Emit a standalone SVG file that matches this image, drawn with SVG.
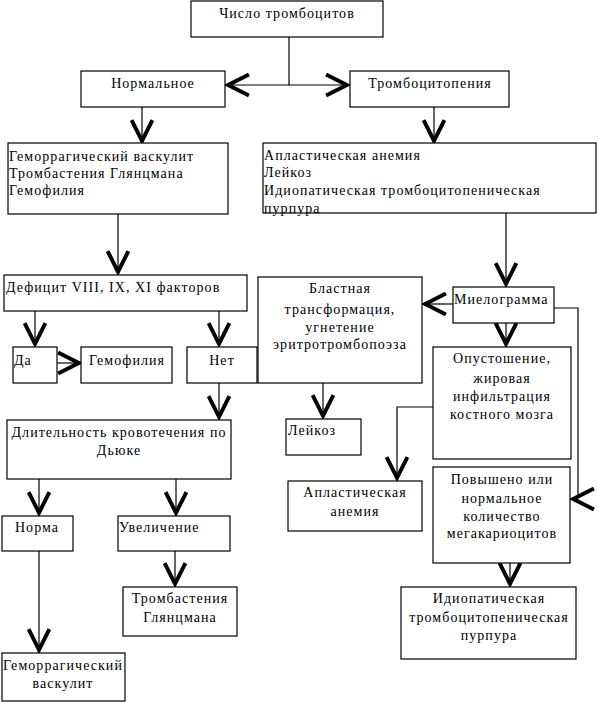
<svg xmlns="http://www.w3.org/2000/svg" width="598" height="703" viewBox="0 0 598 703">
<defs>
<style>
.box{fill:#fff;stroke:#000;stroke-width:1.2}
text{font-family:'Liberation Serif','DejaVu Serif',serif;font-size:14px;fill:#000;letter-spacing:1.05px}
.c{text-anchor:middle}
.ln{fill:none;stroke:#000;stroke-width:1.2;marker-end:url(#v)}
</style>
<marker id="v" markerUnits="userSpaceOnUse" markerWidth="30" markerHeight="30" viewBox="-22 -12 26 24" refX="1" refY="0" orient="auto" overflow="visible">
<path d="M-18,-9 L0,0 L-18,9" fill="none" stroke="#000" stroke-width="3.4" stroke-linejoin="miter"/>
</marker>
</defs>
<rect width="598" height="703" fill="#fff"/>
<g id="connectors">
<path class="ln" d="M289,37 V85 H227"/>
<path class="ln" d="M289,85 H348"/>
<path class="ln" d="M142,107 V142"/>
<path class="ln" d="M434,107 V142"/>
<path class="ln" d="M118,214 V273"/>
<path class="ln" d="M506,213 V285"/>
<path class="ln" d="M35,311 V345"/>
<path class="ln" d="M219,311 V345"/>
<path class="ln" d="M57,363 H80"/>
<path class="ln" d="M219,383 V418"/>
<path class="ln" d="M39,479 V514"/>
<path class="ln" d="M176,479 V514"/>
<path class="ln" d="M175,551 V585"/>
<path class="ln" d="M39,551 V651"/>
<path class="ln" d="M453,304 H424"/>
<path class="ln" d="M554,308 H578 V499 H572"/>
<path class="ln" d="M506,323 V345"/>
<path class="ln" d="M433,407 H397 V479"/>
<path class="ln" d="M323,383 V417"/>
<path class="ln" d="M510,563 V585"/>
</g>
<g font-family="Liberation Serif, DejaVu Serif, serif">
<g id="n-count"><rect class="box" x="191" y="1" width="192" height="36"/><text class="c" x="287" y="18">Число тромбоцитов</text></g>
<g id="n-normal"><rect class="box" x="81" y="71" width="144" height="36"/><text class="c" x="153" y="88">Нормальное</text></g>
<g id="n-thrombocytopenia"><rect class="box" x="350" y="71" width="159" height="36"/><text class="c" x="430" y="88">Тромбоцитопения</text></g>
<g id="n-list1"><rect class="box" x="8" y="143" width="220" height="71"/><text x="9" y="161">Геморрагический васкулит</text><text x="9" y="178">Тромбастения Глянцмана</text><text x="9" y="195">Гемофилия</text></g>
<g id="n-list2"><rect class="box" x="263" y="143" width="333" height="70"/><text x="264" y="160">Апластическая анемия</text><text x="264" y="177">Лейкоз</text><text x="264" y="195">Идиопатическая тромбоцитопеническая</text><text x="264" y="213">пурпура</text></g>
<g id="n-deficit"><rect class="box" x="4" y="275" width="243" height="36"/><text x="6" y="292">Дефицит VIII, IX, XI факторов</text></g>
<g id="n-yes"><rect class="box" x="13" y="347" width="44" height="36"/><text x="14" y="365">Да</text></g>
<g id="n-hemophilia"><rect class="box" x="81" y="347" width="91" height="36"/><text class="c" x="127" y="365">Гемофилия</text></g>
<g id="n-no"><rect class="box" x="187" y="347" width="70" height="36"/><text class="c" x="222" y="365">Нет</text></g>
<g id="n-duke"><rect class="box" x="7" y="420" width="224" height="59"/><text class="c" x="119" y="437">Длительность кровотечения по</text><text class="c" x="119" y="455">Дьюке</text></g>
<g id="n-norm"><rect class="box" x="2" y="516" width="71" height="35"/><text class="c" x="37" y="532">Норма</text></g>
<g id="n-increase"><rect class="box" x="118" y="516" width="112" height="35"/><text x="119" y="532">Увеличение</text></g>
<g id="n-glanzmann"><rect class="box" x="123" y="587" width="114" height="49"/><text class="c" x="180" y="603">Тромбастения</text><text class="c" x="180" y="622">Глянцмана</text></g>
<g id="n-vasculitis"><rect class="box" x="2" y="653" width="123" height="48"/><text class="c" x="63" y="670">Геморрагический</text><text class="c" x="63" y="688">васкулит</text></g>
<g id="n-blast"><rect class="box" x="258" y="277" width="164" height="106"/><text class="c" x="340" y="293">Бластная</text><text class="c" x="340" y="314">трансформация,</text><text class="c" x="340" y="332">угнетение</text><text class="c" x="340" y="349">эритротромбопоэза</text></g>
<g id="n-myelogram"><rect class="box" x="453" y="287" width="101" height="36"/><text x="454" y="304">Миелограмма</text></g>
<g id="n-leukosis"><rect class="box" x="286" y="419" width="75" height="36"/><text x="288" y="435">Лейкоз</text></g>
<g id="n-devastation"><rect class="box" x="433" y="347" width="138" height="112"/><text class="c" x="502" y="363">Опустошение,</text><text class="c" x="502" y="383">жировая</text><text class="c" x="502" y="401">инфильтрация</text><text class="c" x="502" y="419">костного мозга</text></g>
<g id="n-aplastic"><rect class="box" x="288" y="481" width="134" height="50"/><text class="c" x="355" y="497">Апластическая</text><text class="c" x="355" y="516">анемия</text></g>
<g id="n-megakaryocytes"><rect class="box" x="433" y="467" width="137" height="96"/><text class="c" x="502" y="484">Повышено или</text><text class="c" x="502" y="503">нормальное</text><text class="c" x="502" y="521">количество</text><text class="c" x="502" y="538">мегакариоцитов</text></g>
<g id="n-itp"><rect class="box" x="401" y="587" width="175" height="72"/><text class="c" x="489" y="603">Идиопатическая</text><text class="c" x="489" y="622">тромбоцитопеническая</text><text class="c" x="489" y="640">пурпура</text></g>
</g>
</svg>
